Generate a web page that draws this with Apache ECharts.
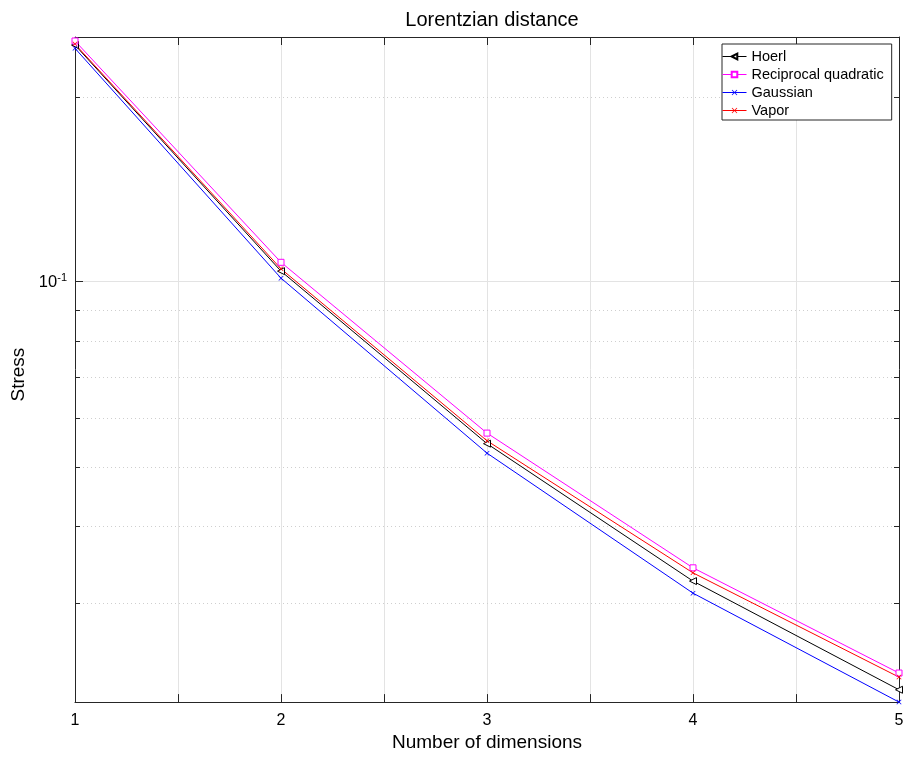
<!DOCTYPE html>
<html>
<head>
<meta charset="utf-8">
<script src="https://cdn.jsdelivr.net/npm/echarts@6/dist/echarts.min.js"></script>
<style>html,body{margin:0;padding:0;background:#fff;}#c{width:913px;height:757px;}</style>
</head>
<body>
<div id="c"></div>
<script>
var dims = [1, 2, 3, 4, 5];
var hoerl = [0.2426, 0.1040, 0.0545, 0.03257, 0.02168];
var recipQuad = [0.2463, 0.1075, 0.0567, 0.03423, 0.02308];
var gaussian = [0.2396, 0.1013, 0.0526, 0.03113, 0.0207];
var vapor = [0.2435, 0.1049, 0.0551, 0.03359, 0.02273];
var yMin = 0.0207, yMax = 0.25;
var minorTicks = [0.03, 0.04, 0.05, 0.06, 0.07, 0.08, 0.09, 0.2];
var majorTickLabels = {'0.1': ['10', '-1']};

var FONT = 'Liberation Sans, Arial, Helvetica, sans-serif';
var AX = '#262626';

function pairs(arr) { return dims.map(function (d, i) { return [d, arr[i]]; }); }

var crossPath = 'path://M0,1L1,0L5,4L9,0L10,1L6,5L10,9L9,10L5,6L1,10L0,9L4,5Z';

function mk(name, data, color, symbol, size, hollow) {
  return {
    name: name, type: 'line', data: pairs(data),
    symbol: symbol, symbolSize: size, showSymbol: true,
    lineStyle: { color: color, width: 1 },
    itemStyle: hollow ? { color: '#fff', borderColor: color, borderWidth: 1 } : { color: color, borderColor: color, borderWidth: 0 },
    emphasis: { disabled: true }, z: 3
  };
}

var chart = echarts.init(document.getElementById('c'), null, { renderer: 'canvas' });
chart.setOption({
  animation: false,
  backgroundColor: '#fff',
  textStyle: { fontFamily: FONT },
  title: {
    text: 'Lorentzian distance', left: 487, top: 5, textAlign: 'center',
    textStyle: { fontFamily: FONT, fontSize: 20, fontWeight: 'normal', color: '#000' }
  },
  legend: {
    data: ['Hoerl', 'Reciprocal quadratic', 'Gaussian', 'Vapor'],
    orient: 'vertical', left: 722, top: 44,
    padding: [5, 8, 2, 0], itemGap: 3, itemWidth: 24, itemHeight: 7,
    borderColor: AX, borderWidth: 1, backgroundColor: '#fff',
    selectedMode: false,
    lineStyle: { width: 1 },
    textStyle: { fontFamily: FONT, fontSize: 14.5, color: '#000' }
  },
  grid: { left: 75, right: 14, top: 37, bottom: 54, containLabel: false },
  xAxis: [{
    type: 'value', min: 1, max: 5, interval: 0.5,
    name: 'Number of dimensions', nameLocation: 'middle', nameGap: 28,
    nameTextStyle: { fontFamily: FONT, fontSize: 19, color: '#000' },
    axisLine: { show: true, lineStyle: { color: AX, width: 1 } },
    axisTick: { show: true, inside: true, length: 8, lineStyle: { color: AX } },
    axisLabel: {
      margin: 10, fontFamily: FONT, fontSize: 16, color: '#000',
      formatter: function (v) { return Math.abs(v - Math.round(v)) < 1e-9 ? String(Math.round(v)) : ''; }
    },
    splitLine: { show: true, lineStyle: { color: '#e3e3e3', width: 1 } }
  }, {
    type: 'value', min: 1, max: 5, interval: 0.5, position: 'top',
    axisLine: { show: true, lineStyle: { color: AX, width: 1 } },
    axisTick: { show: true, inside: true, length: 8, lineStyle: { color: AX } },
    axisLabel: { show: false }, splitLine: { show: false }
  }],
  yAxis: [{
    type: 'log', logBase: 10, min: yMin, max: yMax,
    name: 'Stress', nameLocation: 'middle', nameGap: 43,
    nameTextStyle: { fontFamily: FONT, fontSize: 19, color: '#000', padding: [0, 10, 0, 0] },
    axisLine: { show: true, lineStyle: { color: AX, width: 1 } },
    axisTick: { show: true, inside: true, length: 8, lineStyle: { color: AX } },
    axisLabel: {
      margin: 8, fontFamily: FONT, color: '#000',
      formatter: function (v) {
        for (var k in majorTickLabels) {
          if (Math.abs(v - parseFloat(k)) < 1e-9) return '{b|' + majorTickLabels[k][0] + '}{s|' + majorTickLabels[k][1] + '}';
        }
        return '';
      },
      rich: {
        b: { fontFamily: FONT, fontSize: 16.5, color: '#000', verticalAlign: 'bottom' },
        s: { fontFamily: FONT, fontSize: 11, color: '#000', verticalAlign: 'bottom', padding: [0, 0, 8, 0] }
      }
    },
    splitLine: { show: true, lineStyle: { color: '#e3e3e3', width: 1 } }
  }, {
    type: 'log', logBase: 10, min: yMin, max: yMax, position: 'right',
    axisLine: { show: true, lineStyle: { color: AX, width: 1 } },
    axisTick: { show: true, inside: true, length: 8, lineStyle: { color: AX } },
    axisLabel: { show: false }, splitLine: { show: false }
  }],
  series: [
    {
      type: 'custom', name: 'minorGrid', z: 1, silent: true,
      xAxisIndex: 0, yAxisIndex: 0,
      data: minorTicks.map(function (v) { return [dims[0], v]; }),
      renderItem: function (params, api) {
        var pt = api.coord([api.value(0), api.value(1)]);
        var cs = params.coordSys;
        var y = Math.round(pt[1]) + 0.5;
        var x0 = cs.x, x1 = cs.x + cs.width;
        return {
          type: 'group', children: [
            { type: 'line', shape: { x1: x0, y1: y, x2: x1, y2: y }, style: { stroke: '#cfcfcf', lineWidth: 1, lineDash: [1, 3] } },
            { type: 'line', shape: { x1: x0, y1: y, x2: x0 + 5, y2: y }, style: { stroke: AX, lineWidth: 1 } },
            { type: 'line', shape: { x1: x1 - 5, y1: y, x2: x1, y2: y }, style: { stroke: AX, lineWidth: 1 } }
          ]
        };
      }
    },
    mk('Hoerl', hoerl, '#000000', 'path://M0,5L10,0L10,10Z', 7, true),
    mk('Reciprocal quadratic', recipQuad, '#ff00ff', 'rect', 6, true),
    mk('Gaussian', gaussian, '#0000ff', crossPath, 5, false),
    mk('Vapor', vapor, '#ff0000', crossPath, 5, false)
  ]
});
</script>
</body>
</html>
